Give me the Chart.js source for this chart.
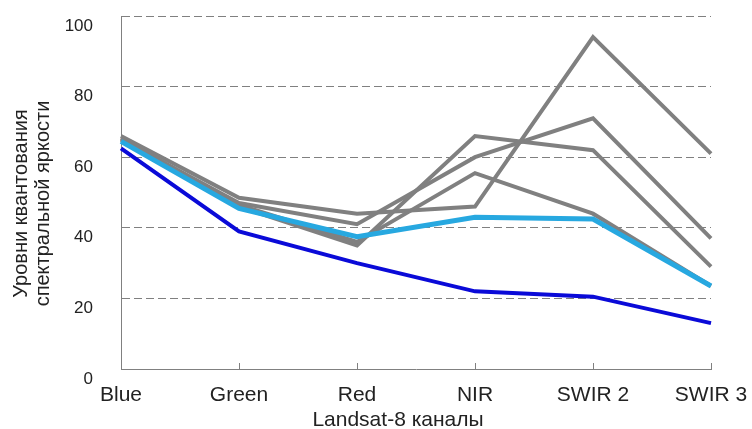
<!DOCTYPE html>
<html lang="ru">
<head>
  <meta charset="UTF-8">
  <title>Уровни квантования спектральной яркости по каналам Landsat-8</title>
  <style>
    body { margin: 0; background: #ffffff; }
    .chart-box { width: 752px; height: 429px; }
  </style>
</head>
<body>
  <div class="chart-box">
    <canvas id="bandChart"></canvas>
  </div>

  <script src="https://cdn.jsdelivr.net/npm/chart.js"></script>
  <script>
    // Landsat-8 bands on the x axis
    const bands = ['Blue', 'Green', 'Red', 'NIR', 'SWIR 2', 'SWIR 3'];
    const yTicks = [0, 20, 40, 60, 80, 100];

    // Values
    const darkBlue = [62.5, 39, 30, 22, 20.5, 13];
    const lightBlue = [64.5, 45.5, 37.5, 43, 42.5, 23.5];
    const gray1 = [66, 48.5, 44, 46, 94, 61];
    const gray2 = [65, 47, 41, 60, 71, 37];
    const gray3 = [65.5, 46, 35, 66, 62, 29];
    const gray4 = [65, 46.5, 36, 55.5, 44, 23.5];

    const xTitle = 'Landsat-8 каналы';
    const yTitle = ['Уровни квантования', 'спектральной яркости'];

    const FONT = "'Liberation Sans', Arial, sans-serif";
    const GRAY = '#808080';

    function line(data, color, width) {
      return {
        data: data,
        borderColor: color,
        backgroundColor: color,
        borderWidth: width,
        pointRadius: 0,
        tension: 0,
        fill: false,
        borderJoinStyle: 'miter',
      };
    }

    // axis titles and the small inward x ticks, drawn by hand
    const axisExtras = {
      id: 'axisExtras',
      afterDraw(chart) {
        const ctx = chart.ctx;
        const area = chart.chartArea;
        const x = chart.scales.x;
        ctx.save();

        ctx.strokeStyle = GRAY;
        ctx.lineWidth = 1;
        x.ticks.forEach((t, i) => {
          if (i === 0) return;
          const px = Math.round(x.getPixelForTick(i)) + 0.5;
          ctx.beginPath();
          ctx.moveTo(px, area.bottom);
          ctx.lineTo(px, area.bottom - 6);
          ctx.stroke();
        });

        ctx.fillStyle = '#222';
        ctx.font = '21px ' + FONT;
        ctx.textAlign = 'center';
        ctx.textBaseline = 'alphabetic';
        ctx.fillText(xTitle, (area.left + area.right) / 2 - 18, chart.height - 3);

        ctx.font = '20px ' + FONT;
        ctx.textBaseline = 'middle';
        const cy = (area.top + area.bottom) / 2 + 11;
        ctx.translate(21, cy);
        ctx.rotate(-Math.PI / 2);
        ctx.fillText(yTitle[0], 0, 0);
        ctx.fillText(yTitle[1], 0, 22);
        ctx.restore();
      }
    };

    new Chart(document.getElementById('bandChart'), {
      type: 'line',
      data: {
        labels: bands,
        datasets: [
          line(darkBlue, '#0a0ad8', 4),
          line(lightBlue, '#27a8e0', 5),
          line(gray1, GRAY, 4),
          line(gray2, GRAY, 4),
          line(gray3, GRAY, 4),
          line(gray4, GRAY, 4),
        ],
      },
      plugins: [axisExtras],
      options: {
        responsive: true,
        maintainAspectRatio: false,
        animation: false,
        layout: { padding: { left: 0, top: 16, right: 41, bottom: 0 } },
        plugins: {
          legend: { display: false },
          tooltip: { enabled: false },
        },
        scales: {
          x: {
            type: 'category',
            offset: false,
            afterFit: (axis) => {
              axis.height = 60;
              axis.paddingLeft = 0;
              axis.paddingRight = 0;
            },
            grid: {
              offset: false,
              drawOnChartArea: false,
              drawTicks: true,
              tickLength: -6,
              color: 'rgba(0,0,0,0)',
            },
            border: { display: true, color: GRAY, width: 1 },
            ticks: {
              color: '#222',
              font: { family: FONT, size: 21 },
              padding: 20,
              maxRotation: 0,
              autoSkip: false,
            },
          },
          y: {
            min: 0,
            max: 100,
            afterBuildTicks: (axis) => {
              axis.ticks = yTicks.map(v => ({ value: v }));
            },
            afterFit: (axis) => {
              axis.width = 121;
              axis.paddingTop = 0;
              axis.paddingBottom = 0;
            },
            grid: {
              drawTicks: false,
              color: (c) => c.tick && c.tick.value === 0 ? 'rgba(0,0,0,0)' : GRAY,
              lineWidth: 1,
            },
            border: { display: true, color: GRAY, width: 1, dash: [8, 4] },
            ticks: {
              color: '#222',
              font: { family: FONT, size: 17 },
              padding: 28,
              labelOffset: 10,
            },
          },
        },
      },
    });
  </script>
</body>
</html>
